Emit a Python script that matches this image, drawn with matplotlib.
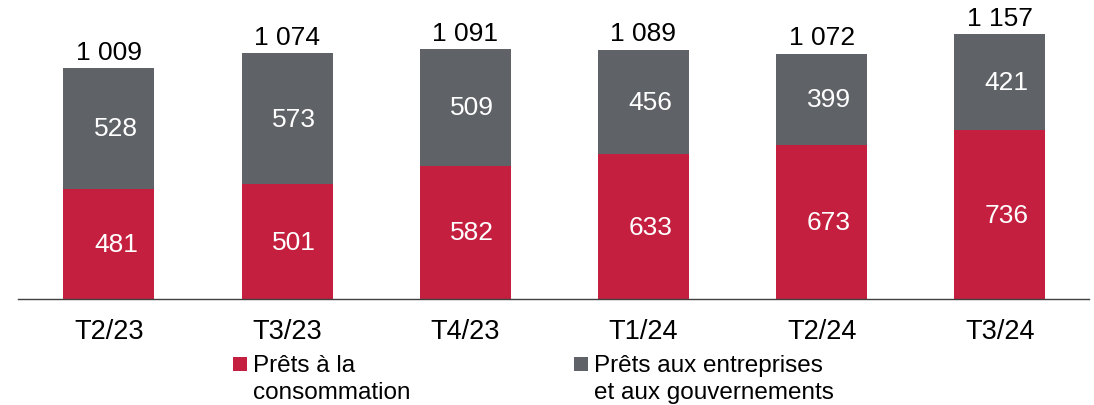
import numpy as np
import matplotlib
matplotlib.use("Agg")
import matplotlib.pyplot as plt
from matplotlib.patches import Rectangle

# Data
quarters = ["T2/23", "T3/23", "T4/23", "T1/24", "T2/24", "T3/24"]
consumer = [481, 501, 582, 633, 673, 736]
corporate = [528, 573, 509, 456, 399, 421]
totals = ["1 009", "1 074", "1 091", "1 089", "1 072", "1 157"]
legend_labels = [["Prêts à la", "consommation"],
                 ["Prêts aux entreprises", "et aux gouvernements"]]

red = "#C41F3E"
grey = "#5F6266"

plt.rcParams["font.family"] = ["Liberation Sans", "DejaVu Sans"]

W, H = 1094, 406
fig = plt.figure(figsize=(W / 100, H / 100), dpi=100)
ax = fig.add_axes([18 / W, (H - 300) / H, (1089 - 18) / W, 300 / H])

x = np.arange(len(quarters))
ax.bar(x, consumer, width=0.51, color=red)
ax.bar(x, corporate, width=0.51, bottom=consumer, color=grey)

for i in range(len(quarters)):
    ax.annotate(str(consumer[i]), (x[i], consumer[i] / 2), xytext=(5, 0),
                textcoords="offset points", ha="center", va="center",
                color="white", fontsize=19)
    ax.annotate(str(corporate[i]), (x[i], consumer[i] + corporate[i] / 2),
                xytext=(5, 0), textcoords="offset points", ha="center",
                va="center", color="white", fontsize=19)
    ax.annotate(totals[i], (x[i], consumer[i] + corporate[i]), xytext=(0, 3),
                textcoords="offset points", ha="center", va="bottom",
                color="black", fontsize=19)

ax.set_xlim(-0.51, 5.5)
ax.set_ylim(0, 1310)
ax.set_xticks(x)
ax.set_xticklabels(quarters, fontsize=19.5)
ax.tick_params(axis="x", length=0, pad=14)
ax.set_yticks([])
for s in ["top", "left", "right"]:
    ax.spines[s].set_visible(False)
ax.spines["bottom"].set_color("#404040")
ax.spines["bottom"].set_linewidth(1)

# Legend drawn by hand (square sits on the first line's baseline)
def legend_item(px, color, lines):
    fig.add_artist(Rectangle((px / W, (H - 372) / H), 14 / W, 14 / H,
                             transform=fig.transFigure, color=color, lw=0))
    for k, line in enumerate(lines):
        fig.text((px + 20) / W, (H - 372 - 27 * k) / H, line, ha="left",
                 va="baseline", fontsize=17.5)

legend_item(233, red, legend_labels[0])
legend_item(574, grey, legend_labels[1])

fig.savefig("out.png", dpi=100)
